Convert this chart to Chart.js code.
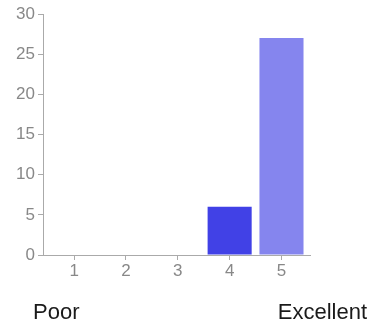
<!DOCTYPE html>
<html>
<head>
<meta charset="utf-8">
<script src="https://cdn.jsdelivr.net/npm/chart.js@4/dist/chart.umd.min.js"></script>
<style>
  html, body { margin: 0; padding: 0; background: #fff; }
  #wrap { width: 371px; height: 326px; position: relative; }
</style>
</head>
<body>
<div id="wrap"><canvas id="c" width="371" height="326"></canvas></div>
<script>
// Rating scale 1..5 and number of responses per rating
const ratings = [1, 2, 3, 4, 5];
const responses = [0, 0, 0, 6, 27];
const yTicks = [0, 5, 10, 15, 20, 25, 30];
const lowLabel = 'Poor';
const highLabel = 'Excellent';

const barColors = ['#4141e6', '#4141e6', '#4141e6', '#4141e6', '#8585ee'];
const axisColor = '#aaaaaa';
const tickColor = '#888888';
const fontFamily = '"Liberation Sans", Arial, sans-serif';

// Scale end labels under the axis
const endLabels = {
  id: 'endLabels',
  afterDraw(chart) {
    const ctx = chart.ctx;
    ctx.save();
    ctx.font = '22px ' + fontFamily;
    ctx.fillStyle = '#1a1a1a';
    ctx.textBaseline = 'alphabetic';
    ctx.textAlign = 'left';
    ctx.fillText(lowLabel, 33, 319);
    ctx.textAlign = 'right';
    ctx.fillText(highLabel, 367, 319);
    ctx.restore();
  }
};

new Chart(document.getElementById('c'), {
  type: 'bar',
  data: {
    datasets: [{
      data: ratings.map((r, i) => ({ x: r, y: responses[i] })),
      backgroundColor: barColors,
      borderWidth: 0,
      barPercentage: 0.85,
      categoryPercentage: 1.0
    }]
  },
  options: {
    responsive: false,
    animation: false,
    layout: { padding: { left: 0, top: 14, right: 61, bottom: 0 } },
    plugins: { legend: { display: false }, tooltip: { enabled: false } },
    scales: {
      x: {
        type: 'linear',
        offset: false,
        min: 0.4,
        max: 5.55,
        afterBuildTicks(scale) { scale.ticks = ratings.map(v => ({ value: v })); },
        afterFit(scale) { scale.height = 71; },
        border: { color: axisColor, width: 1 },
        grid: { offset: false, drawOnChartArea: false, drawTicks: true, tickLength: 5, color: axisColor },
        ticks: {
          color: tickColor,
          padding: 1,
          font: { family: fontFamily, size: 17 },
          maxRotation: 0
        }
      },
      y: {
        min: 0,
        max: 30,
        afterBuildTicks(scale) { scale.ticks = yTicks.map(v => ({ value: v })); },
        afterFit(scale) { scale.width = 43; },
        border: { color: axisColor, width: 1 },
        grid: { drawOnChartArea: false, drawTicks: true, tickLength: 5, color: axisColor },
        ticks: {
          color: tickColor,
          padding: 3,
          font: { family: fontFamily, size: 17 }
        }
      }
    }
  },
  plugins: [endLabels]
});
</script>
</body>
</html>
